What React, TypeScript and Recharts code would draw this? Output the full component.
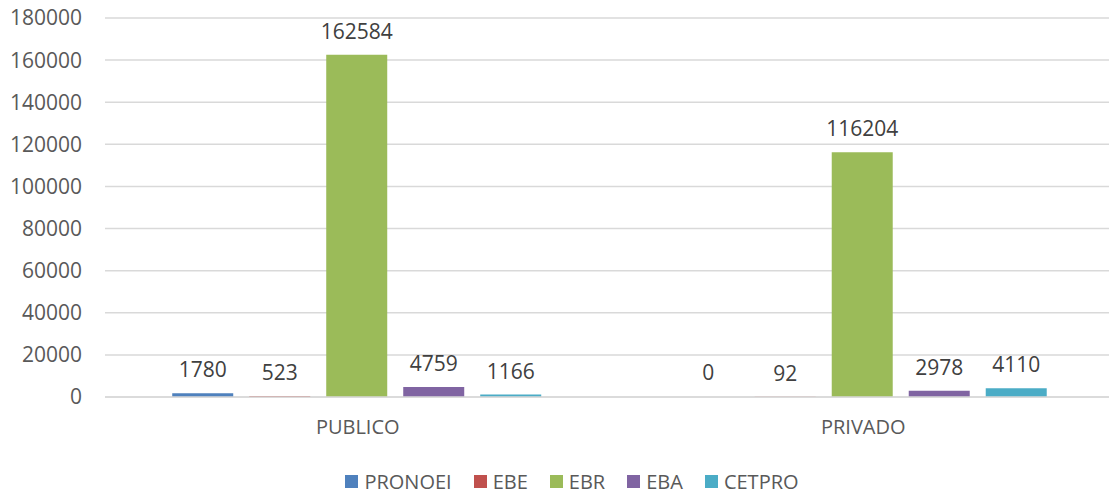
import React from 'react';
import { BarChart, Bar, XAxis, YAxis, CartesianGrid, Legend, LabelList, Cell } from 'recharts';

const categories = ['PUBLICO', 'PRIVADO'];
const pronoei = [1780, 0];
const ebe = [523, 92];
const ebr = [162584, 116204];
const eba = [4759, 2978];
const cetpro = [1166, 4110];
const yTicks = [0, 20000, 40000, 60000, 80000, 100000, 120000, 140000, 160000, 180000];

const series = [
  { key: 'PRONOEI', color: '#4F81BD' },
  { key: 'EBE', color: '#C0504D' },
  { key: 'EBR', color: '#9BBB59' },
  { key: 'EBA', color: '#8064A2' },
  { key: 'CETPRO', color: '#4BACC6' },
];

const data = categories.map((name, i) => ({
  name,
  PRONOEI: pronoei[i],
  EBE: ebe[i],
  EBR: ebr[i],
  EBA: eba[i],
  CETPRO: cetpro[i],
}));

const FONT = '"Open Sans", sans-serif';
const TEXT = '#595959';

// legend sits a bit left of the plot centre, as in the original
const LegendContent = () => (
  <div style={{ display: 'flex', justifyContent: 'center', gap: 22, paddingLeft: 28, paddingTop: 3, fontFamily: FONT, fontSize: 20, color: TEXT }}>
    {series.map(s => (
      <div key={s.key} style={{ display: 'flex', alignItems: 'center' }}>
        <span style={{ width: 13, height: 13, background: s.color, display: 'inline-block', marginRight: 6 }} />
        <span>{s.key}</span>
      </div>
    ))}
  </div>
);

export default function App() {
  return (
    <div style={{ position: 'absolute', left: 0, top: 0, width: 1109, height: 495, overflow: 'hidden', background: '#fff' }}>
      <BarChart
        width={1120}
        height={495}
        data={data}
        margin={{ top: 18, right: 4, left: 0, bottom: 0 }}
        barCategoryGap="13.3%"
        barGap={16}
      >
        <CartesianGrid vertical={false} stroke="#d9d9d9" strokeWidth={1.5} />
        <XAxis
          dataKey="name"
          axisLine={{ stroke: '#d9d9d9', strokeWidth: 1.5 }}
          tickLine={false}
          tickSize={0}
          tickMargin={23}
          height={68}
          tick={{ fill: TEXT, fontSize: 20, fontFamily: FONT }}
        />
        <YAxis
          width={105}
          domain={[0, 180000]}
          ticks={yTicks}
          axisLine={false}
          tickLine={false}
          tickSize={0}
          tickMargin={23}
          tick={{ fill: TEXT, fontSize: 21, fontFamily: FONT }}
          interval={0}
        />
        <Legend verticalAlign="bottom" height={30} content={<LegendContent />} />
        {series.map(s => (
          <Bar
            key={s.key}
            dataKey={s.key}
            fill={s.color}
            isAnimationActive={false}
            minPointSize={(v: number) => (v === 0 ? 1 : 0)}
          >
            {data.map((d, i) => (
              <Cell key={i} fill={(d as any)[s.key] === 0 ? 'transparent' : s.color} />
            ))}
            <LabelList
              dataKey={s.key}
              position="top"
              offset={16}
              style={{ fill: '#404040', fontSize: 21, fontFamily: FONT }}
            />
          </Bar>
        ))}
      </BarChart>
    </div>
  );
}
